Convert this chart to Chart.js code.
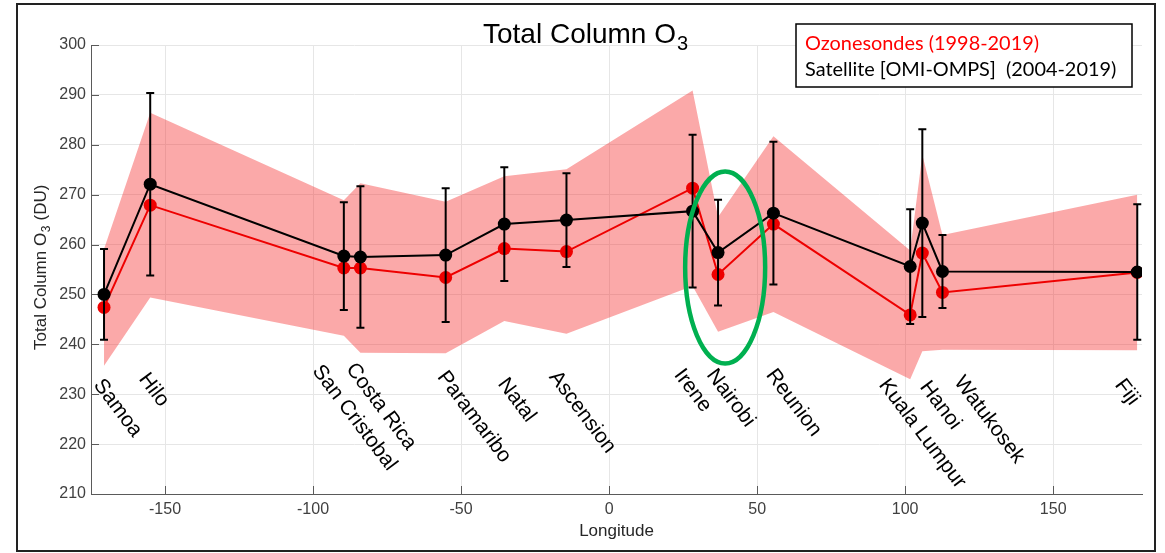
<!DOCTYPE html>
<html>
<head>
<meta charset="utf-8">
<script src="https://cdn.jsdelivr.net/npm/chart.js@4.4.0/dist/chart.umd.min.js"></script>
<style>
  html, body { margin: 0; padding: 0; background: #fff; }
  canvas { display: block; }
</style>
</head>
<body>
<canvas id="graficoO3" width="1165" height="553"></canvas>
<script>
// Estações e longitudes
const estacoes = ['Samoa', 'Hilo', 'San Cristobal', 'Costa Rica', 'Paramaribo', 'Natal', 'Ascension',
    'Irene', 'Nairobi', 'Reunion', 'Kuala Lumpur', 'Hanoi', 'Watukosek', 'Fiji'];
const longitudes = [-170.6, -155.0, -89.6, -84.0, -55.2, -35.4, -14.4, 28.2, 36.8, 55.5, 101.7, 105.8, 112.6, 178.4];

// Ozonesondas (média e desvio -> faixa sombreada)
const sondaMedia = [247.4, 267.9, 255.3, 255.3, 253.4, 259.2, 258.6, 271.3, 254.0, 264.1, 245.9, 258.3, 250.4, 254.4];
const sondaDesvio = [11.7, 18.5, 13.6, 17.0, 15.2, 14.5, 16.5, 19.6, 11.5, 17.6, 12.9, 19.7, 11.5, 15.6];

// Satélite OMI-OMPS (média e barra de erro)
const satMedia = [250.0, 272.1, 257.7, 257.5, 257.9, 264.1, 264.9, 266.7, 258.4, 266.3, 255.6, 264.3, 254.6, 254.5];
const satDesvio = [9.1, 18.3, 10.8, 14.2, 13.4, 11.4, 9.4, 15.3, 10.6, 14.3, 11.5, 18.8, 7.3, 13.6];

// Marcas dos eixos
const xTicks = [-150, -100, -50, 0, 50, 100, 150];
const yTicks = [210, 220, 230, 240, 250, 260, 270, 280, 290, 300];

// Posição dos nomes das estações (deslocamento em px e topo em px)
const rotuloDx = [1, 0, -20, -3, 3, 5, -6, -7, 0, 4, -20, 9, 23, -11];
const rotuloTopo = [376, 370, 362, 360, 368, 375, 368, 366, 366, 366, 376, 378, 373, 376];

// Destaque (elipse verde) em Nairobi
const destaque = { lon: 39.2, o3: 255.4, rx: 40, ry: 96 };

const fonte = '"Liberation Sans", Arial, Helvetica, sans-serif';
const vermelho = '#ee0000';

const pontos = (vals) => longitudes.map((lon, i) => ({ x: lon, y: vals[i] }));
const faixaSup = sondaMedia.map((m, i) => m + sondaDesvio[i]);
const faixaInf = sondaMedia.map((m, i) => m - sondaDesvio[i]);

// Barras de erro do satélite
const barrasErro = {
    id: 'barrasErro',
    afterDatasetsDraw(chart) {
        const { ctx, scales: { x, y } } = chart;
        ctx.save();
        ctx.strokeStyle = '#000';
        ctx.lineWidth = 2;
        longitudes.forEach((lon, i) => {
            const px = x.getPixelForValue(lon);
            const yTop = y.getPixelForValue(satMedia[i] + satDesvio[i]);
            const yBot = y.getPixelForValue(satMedia[i] - satDesvio[i]);
            ctx.beginPath();
            ctx.moveTo(px, yTop); ctx.lineTo(px, yBot);
            ctx.moveTo(px - 4, yTop); ctx.lineTo(px + 4, yTop);
            ctx.moveTo(px - 4, yBot); ctx.lineTo(px + 4, yBot);
            ctx.stroke();
        });
        ctx.restore();
    }
};

// Marcas internas dos eixos (estilo MATLAB)
const marcasInternas = {
    id: 'marcasInternas',
    beforeDatasetsDraw(chart) {
        const { ctx, chartArea: a, scales: { x, y } } = chart;
        ctx.save();
        ctx.strokeStyle = '#5a5a5a';
        ctx.lineWidth = 1;
        ctx.beginPath();
        xTicks.forEach(v => {
            const px = Math.round(x.getPixelForValue(v)) + 0.5;
            ctx.moveTo(px, a.bottom); ctx.lineTo(px, a.bottom - 8);
        });
        yTicks.forEach(v => {
            const py = Math.round(y.getPixelForValue(v)) + 0.5;
            ctx.moveTo(a.left, py); ctx.lineTo(a.left + 8, py);
        });
        ctx.stroke();
        ctx.restore();
    }
};

// Textos, legenda, moldura e destaque
const decoracao = {
    id: 'decoracao',
    afterDraw(chart) {
        const { ctx, chartArea: a, scales: { x, y } } = chart;
        ctx.save();

        // moldura externa
        ctx.strokeStyle = '#222';
        ctx.lineWidth = 2;
        ctx.strokeRect(17, 4, 1138, 547);

        // título com subscrito
        ctx.fillStyle = '#000';
        ctx.textBaseline = 'alphabetic';
        ctx.textAlign = 'left';
        ctx.font = '28px ' + fonte;
        const t1 = 'Total Column O';
        const w1 = ctx.measureText(t1).width;
        ctx.fillText(t1, 483, 43);
        ctx.font = '20px ' + fonte;
        ctx.fillText('3', 483 + w1 + 1, 50);

        // rótulo do eixo y
        ctx.fillStyle = '#262626';
        ctx.save();
        ctx.translate(46, 350);
        ctx.rotate(-Math.PI / 2);
        ctx.font = '17px ' + fonte;
        const y1 = 'Total Column O';
        const wy1 = ctx.measureText(y1).width;
        ctx.fillText(y1, 0, 0);
        ctx.font = '12px ' + fonte;
        ctx.fillText('3', wy1 + 0.5, 4);
        const wy2 = ctx.measureText('3').width;
        ctx.font = '17px ' + fonte;
        ctx.fillText(' (DU)', wy1 + wy2 + 1, 0);
        ctx.restore();

        // rótulo do eixo x
        ctx.font = '17px ' + fonte;
        ctx.textAlign = 'center';
        ctx.fillText('Longitude', (a.left + a.right) / 2, 536);

        // nomes das estações, girados
        ctx.fillStyle = '#000';
        ctx.textAlign = 'left';
        ctx.font = '21px ' + fonte;
        const ang = 53 * Math.PI / 180;
        estacoes.forEach((nome, i) => {
            const px = x.getPixelForValue(longitudes[i]) + rotuloDx[i];
            ctx.save();
            ctx.translate(px, rotuloTopo[i]);
            ctx.rotate(ang);
            ctx.fillText(nome, 0, 15);
            ctx.restore();
        });

        // legenda
        ctx.strokeStyle = '#000';
        ctx.lineWidth = 1.5;
        ctx.fillStyle = '#fff';
        ctx.fillRect(796, 24, 336, 63);
        ctx.strokeRect(796, 24, 336, 63);
        const leg2 = 'Satellite [OMI-OMPS]  (2004-2019)';
        ctx.font = '20px Lato, "Open Sans", sans-serif';
        const tam = 20 * 312 / ctx.measureText(leg2).width;
        ctx.font = tam.toFixed(1) + 'px Lato, "Open Sans", sans-serif';
        ctx.textBaseline = 'middle';
        ctx.fillStyle = '#ff0000';
        ctx.fillText('Ozonesondes (1998-2019)', 805, 44);
        ctx.fillStyle = '#000';
        ctx.fillText(leg2, 805, 70);

        // elipse verde em Nairobi
        ctx.strokeStyle = '#00b050';
        ctx.lineWidth = 4.5;
        ctx.beginPath();
        ctx.ellipse(x.getPixelForValue(destaque.lon), y.getPixelForValue(destaque.o3),
            destaque.rx, destaque.ry, 0, 0, Math.PI * 2);
        ctx.stroke();

        ctx.restore();
    }
};

const ctx = document.getElementById('graficoO3').getContext('2d');
const grafico = new Chart(ctx, {
    type: 'line',
    data: {
        datasets: [
            {
                label: 'faixa sup',
                data: pontos(faixaSup),
                borderWidth: 0,
                pointRadius: 0,
                fill: false,
                order: 4
            },
            {
                label: 'faixa inf',
                data: pontos(faixaInf),
                borderWidth: 0,
                pointRadius: 0,
                backgroundColor: 'rgba(245, 40, 40, 0.40)',
                fill: '-1',
                order: 3
            },
            {
                label: 'Ozonesondes',
                data: pontos(sondaMedia),
                borderColor: vermelho,
                backgroundColor: vermelho,
                borderWidth: 2,
                pointRadius: 6.5,
                pointBorderWidth: 0,
                fill: false,
                order: 2
            },
            {
                label: 'Satellite',
                data: pontos(satMedia),
                borderColor: '#000',
                backgroundColor: '#000',
                borderWidth: 2,
                pointRadius: 6.5,
                pointBorderWidth: 0,
                fill: false,
                order: 1
            }
        ]
    },
    options: {
        responsive: false,
        animation: false,
        devicePixelRatio: 1,
        layout: { padding: { top: 45, right: 23, left: 0, bottom: 0 } },
        plugins: {
            legend: { display: false },
            tooltip: { enabled: false },
            title: { display: false }
        },
        scales: {
            x: {
                type: 'linear',
                min: -175,
                max: 180,
                afterBuildTicks: (s) => { s.ticks = xTicks.map(v => ({ value: v })); },
                afterFit: (s) => { s.height = 59; },
                grid: { color: '#e6e6e6', drawTicks: false },
                border: { display: true, color: '#5a5a5a', width: 1 },
                ticks: {
                    autoSkip: false,
                    maxRotation: 0,
                    padding: 6,
                    color: '#404040',
                    font: { family: fonte, size: 16 }
                }
            },
            y: {
                min: 210,
                max: 300,
                afterBuildTicks: (s) => { s.ticks = yTicks.map(v => ({ value: v })); },
                afterFit: (s) => { s.width = 91; },
                grid: { color: '#e6e6e6', drawTicks: false },
                border: { display: true, color: '#5a5a5a', width: 1 },
                ticks: {
                    padding: 5,
                    color: '#404040',
                    font: { family: fonte, size: 16 }
                }
            }
        }
    },
    plugins: [marcasInternas, barrasErro, decoracao]
});
</script>
</body>
</html>
